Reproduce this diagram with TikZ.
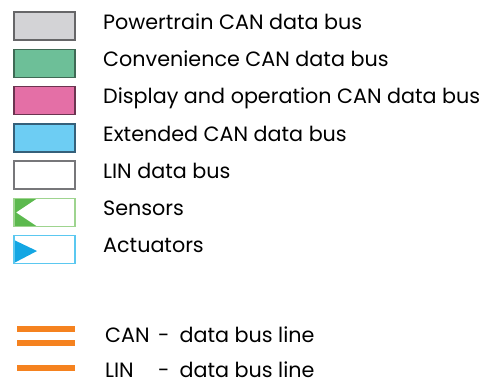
\documentclass[tikz,border=0pt]{standalone}
\usepackage{fontspec}
\setmainfont{Poppins}
\begin{document}
\begin{tikzpicture}[x=1pt,y=-1pt,
  swatch/.style={line width=1.4pt},
  label/.style={anchor=base west,inner sep=0pt,font=\fontsize{20.7}{24}\selectfont},
  busline/.style={draw=busorange,line width=5.5pt}]
\definecolor{busorange}{HTML}{F5821F}
\definecolor{ptfill}{HTML}{D3D3D6}\definecolor{ptdraw}{HTML}{666668}
\definecolor{cvfill}{HTML}{6DBF98}\definecolor{cvdraw}{HTML}{3F6A55}
\definecolor{dofill}{HTML}{E46FA6}\definecolor{dodraw}{HTML}{6B3450}
\definecolor{exfill}{HTML}{6DCDF3}\definecolor{exdraw}{HTML}{35607A}
\definecolor{lindraw}{HTML}{77777A}
\definecolor{sedraw}{HTML}{9ED48F}\definecolor{sefill}{HTML}{5CB94E}
\definecolor{acdraw}{HTML}{5BC8F0}\definecolor{acfill}{HTML}{13A6E3}
\useasboundingbox (0,0) rectangle (488,385);
% bus swatches
\draw[swatch,draw=ptdraw,fill=ptfill] (14,12) rectangle (75,40);
\draw[swatch,draw=cvdraw,fill=cvfill] (14,49.3) rectangle (75,77.3);
\draw[swatch,draw=dodraw,fill=dofill] (14,86.6) rectangle (75,114.6);
\draw[swatch,draw=exdraw,fill=exfill] (14,123.9) rectangle (75,151.9);
\draw[swatch,draw=lindraw,fill=white] (14,161.2) rectangle (75,189.2);
% sensor swatch: green notch on the left
\fill[sefill] (14,198.5) -- (37,198.5) -- (16,212.5) -- (37,226.5) -- (14,226.5) -- cycle;
\draw[swatch,draw=sedraw] (14,198.5) rectangle (75,226.5);
% actuator swatch: blue triangle pointing right
\fill[acfill] (14,240) -- (37,251) -- (14,263) -- cycle;
\draw[swatch,draw=acdraw] (14,235.8) rectangle (75,263.8);
% bus labels
\node[label] (pt) at (103,29.5) {Powertrain CAN data bus};
\node[label] (cv) at (103,66.7) {Convenience CAN data bus};
\node[label] (do) at (103,103.9) {Display and operation CAN data bus};
\node[label] (ex) at (103,141.1) {Extended CAN data bus};
\node[label] (lin) at (103,178.3) {LIN data bus};
\node[label] (se) at (103,215.5) {Sensors};
\node[label] (ac) at (103,252.7) {Actuators};
% line legend
\draw[busline] (17,329) -- (75,329);
\draw[busline] (17,343) -- (75,343);
\draw[busline] (17,368) -- (75,368);
\node[label] (canl) at (105,342.5) {\makebox[53pt][l]{CAN}-\hspace{10pt}data bus line};
\node[label] (linl) at (105,377.5) {\makebox[53pt][l]{LIN}-\hspace{10pt}data bus line};
\end{tikzpicture}
\end{document}
